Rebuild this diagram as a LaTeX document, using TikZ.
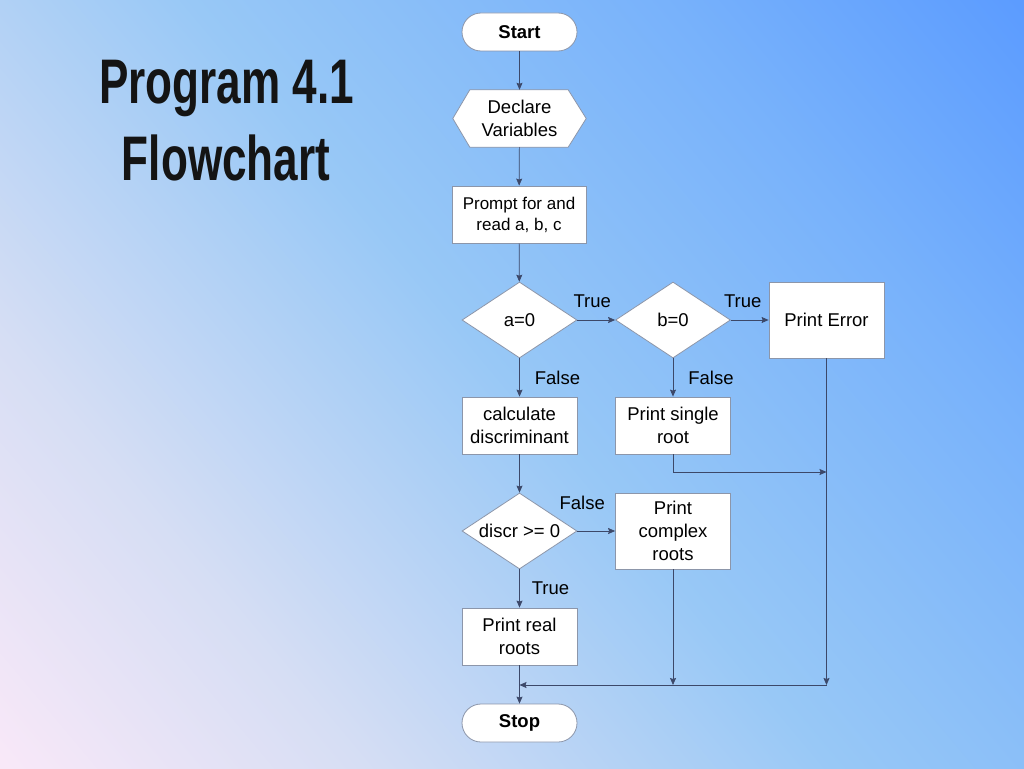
\documentclass[tikz,border=0pt]{standalone}
\usepackage{fontspec}
\setmainfont{Liberation Sans}
\usetikzlibrary{shapes.geometric,arrows.meta}
\definecolor{bgA}{RGB}{248,232,248}
\definecolor{bgB}{RGB}{214,222,244}
\definecolor{bgC}{RGB}{152,200,246}
\definecolor{bgD}{RGB}{120,178,251}
\definecolor{bgE}{RGB}{92,156,255}
\definecolor{linecol}{RGB}{60,72,105}
\definecolor{boxline}{RGB}{140,150,170}
\pgfdeclarehorizontalshading{bgshade}{100bp}{color(0bp)=(bgA); color(15bp)=(bgA); color(30bp)=(bgB); color(50bp)=(bgC); color(70bp)=(bgD); color(85bp)=(bgE); color(100bp)=(bgE)}
\pgfdeclarelayer{background}
\pgfsetlayers{background,main}
\begin{document}
\begin{tikzpicture}[x=1pt,y=-1pt,
  font=\fontsize{18.5}{23}\selectfont,
  box/.style={draw=boxline, fill=white, line width=0.8pt, minimum width=115pt, minimum height=57pt, align=center, inner sep=2pt},
  term/.style={box, minimum height=38pt, rounded corners=19pt, font=\fontsize{18.5}{23}\selectfont\bfseries},
  dec/.style={diamond, draw=boxline, fill=white, line width=0.8pt, minimum width=115pt, minimum height=76pt, inner sep=0pt, aspect=1.5},
  conn/.style={draw=linecol, line width=0.7pt, -{Stealth[length=7pt,width=6pt,inset=1pt]}},
  lbl/.style={inner sep=1pt},
  titletext/.style={anchor=base, text=black!92, font=\fontsize{63}{70}\selectfont\bfseries}
]
\useasboundingbox (0,0) rectangle (1024,768);

% title
\node[titletext] (t1) at (226.5,103) {\scalebox{0.7}[1]{Program 4.1}};
\node[titletext] (t2) at (226,180) {\scalebox{0.7}[1]{Flowchart}};

% nodes
\node[term] (start) at (519.5,32) {Start};
\node[minimum width=133pt, minimum height=57pt, align=center, inner sep=2pt] (decl) at (519.5,118.5) {Declare\\Variables};
\node[box, minimum width=134pt, font=\fontsize{17}{21}\selectfont] (prompt) at (519,214.5) {Prompt for and\\read a, b, c};
\node[dec] (a0) at (519.5,320) {a=0};
\node[dec] (b0) at (673,320) {b=0};
\node[box, minimum height=76pt] (err) at (826.5,320) {Print Error};
\node[box] (calc) at (519.5,425.5) {calculate\\discriminant};
\node[box] (single) at (673,425.5) {Print single\\root};
\node[dec] (discr) at (519.5,531) {discr >= 0};
\node[box, minimum height=76pt] (complex) at (673,531) {Print\\complex\\roots};
\node[box] (real) at (519.5,636.5) {Print real\\roots};
\node[term] (stop) at (519.5,723) {Stop};

\coordinate (j1) at (826.5,472);
\coordinate (jc) at (673,685);
\coordinate (je) at (826.5,685);
\coordinate (jr) at (519.5,685);

\begin{pgfonlayer}{background}
\shade[shading=bgshade, shading angle=40] (0,0) rectangle (1024,768);
\filldraw[fill=white, draw=boxline, line width=0.8pt]
  (decl.west) -- ([xshift=17pt]decl.north west) -- ([xshift=-18pt]decl.north east)
  -- (decl.east) -- ([xshift=-18pt]decl.south east) -- ([xshift=17pt]decl.south west) -- cycle;
\end{pgfonlayer}

% connectors
\draw[conn] (start) -- (decl);
\draw[conn] (decl) -- (prompt);
\draw[conn] (prompt) -- (a0);
\draw[conn] (a0.east) -- node[lbl, above=11pt, xshift=-4pt] {True} (b0.west);
\draw[conn] (b0.east) -- node[lbl, above=11pt, xshift=-7pt] {True} (err.west);
\draw[conn] (a0.south) -- node[lbl, right=14pt] {False} (calc.north);
\draw[conn] (b0.south) -- node[lbl, right=14pt] {False} (single.north);
\draw[conn] (single.south) |- (j1);
\draw[conn] (err.south) -- (je);
\draw[conn] (calc.south) -- (discr.north);
\draw[conn] (discr.east) -- node[lbl, above=20pt, xshift=-14pt] {False} (complex.west);
\draw[conn] (discr.south) -- node[lbl, right=11pt] {True} (real.north);
\draw[conn] (complex.south) -- (jc);
\draw[conn] (je) -- (jr);
\draw[conn] (real.south) -- (stop.north);
\end{tikzpicture}
\end{document}
